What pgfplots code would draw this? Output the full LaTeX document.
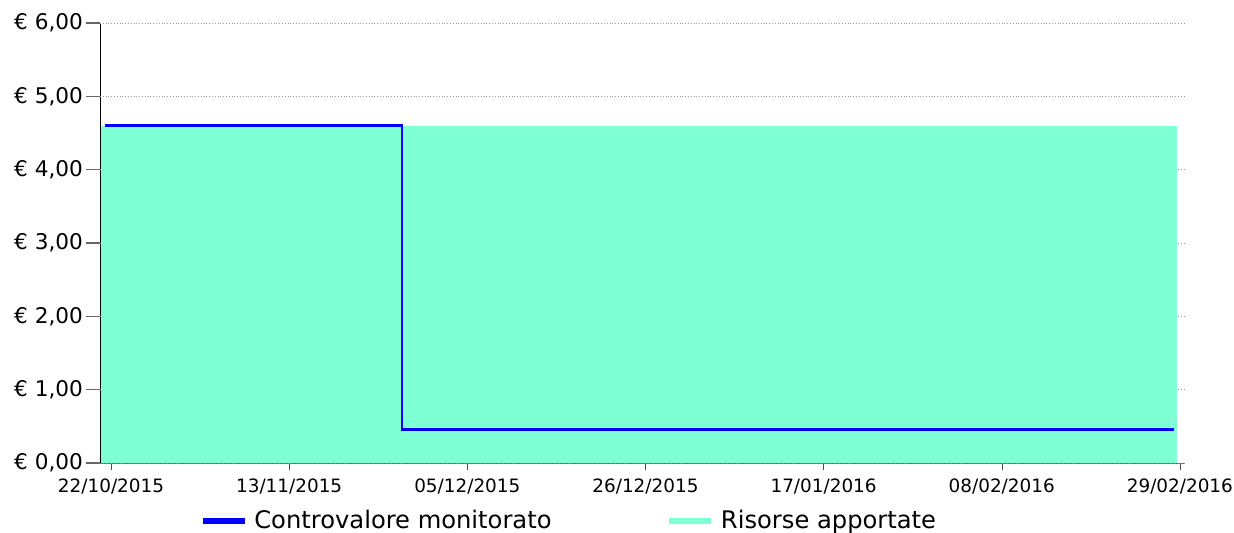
\documentclass[border=0pt]{standalone}
\usepackage{fontspec}
\setmainfont{DejaVu Sans}
\usepackage{pgfplots}
\pgfplotsset{compat=1.18}
\definecolor{aqua}{HTML}{7FFFD4}
\begin{document}
\begin{tikzpicture}
\begin{axis}[
  name=main,
  scale only axis,
  width=542pt, height=220pt,
  xmin=-1.34, xmax=130.5,
  ymin=0, ymax=6,
  axis lines=left,
  axis line style={-},
  x axis line style={gray!80!black},
  y axis line style={black},
  tick align=outside,
  major tick length=3.5pt,
  xtick={0,21.6667,43.3333,65,86.6667,108.3333,130},
  xticklabels={22/10/2015,13/11/2015,05/12/2015,26/12/2015,17/01/2016,08/02/2016,29/02/2016},
  ytick=\empty,
  extra y ticks={0,1,2,3,4,5,6},
  extra y tick labels={{€ 0,00},{€ 1,00},{€ 2,00},{€ 3,00},{€ 4,00},{€ 5,00},{€ 6,00}},
  extra y tick style={major tick length=7pt, ymajorgrids=true,
    tick style={black!60, line width=0.6pt},
    yticklabel style={font=\fontsize{10.8}{12}\selectfont, xshift=2pt}},
  x tick label style={font=\fontsize{9.2}{10}\selectfont, yshift=-1pt},
  xtick style={black!70},
  major grid style={gray!80, densely dotted, line width=0.4pt},
  legend style={at={(0.5,-0.095)}, xshift=-36pt, yshift=1.5pt, anchor=north, draw=none, fill=none,
    legend columns=2, font=\fontsize{12.1}{13}\selectfont,
    /tikz/every odd column/.append style={column sep=1.5pt},
    /tikz/every even column/.append style={column sep=55.5pt}},
  legend image code/.code={\draw[#1, line width=2.7pt] (0pt,0pt) -- (21pt,0pt);},
  legend cell align=left,
]
\addlegendimage{blue}
\addlegendentry{Controvalore monitorato}
\addlegendimage{aqua}
\addlegendentry{Risorse apportate}
\addplot[fill=aqua, draw=none, forget plot] coordinates {(-1.2,4.6) (129.6,4.6)} \closedcycle;
\addplot[blue, line width=1.4pt, const plot, forget plot] coordinates {(-0.7,4.6) (35.4,0.46) (129.3,0.46)};
\end{axis}
\pgfresetboundingbox
\path (main.south west) ++(-50pt,-35pt) coordinate (bbA);
\path (main.north east) ++(25pt,11.5pt) coordinate (bbB);
\useasboundingbox (bbA) rectangle (bbB);
\end{tikzpicture}
\end{document}
